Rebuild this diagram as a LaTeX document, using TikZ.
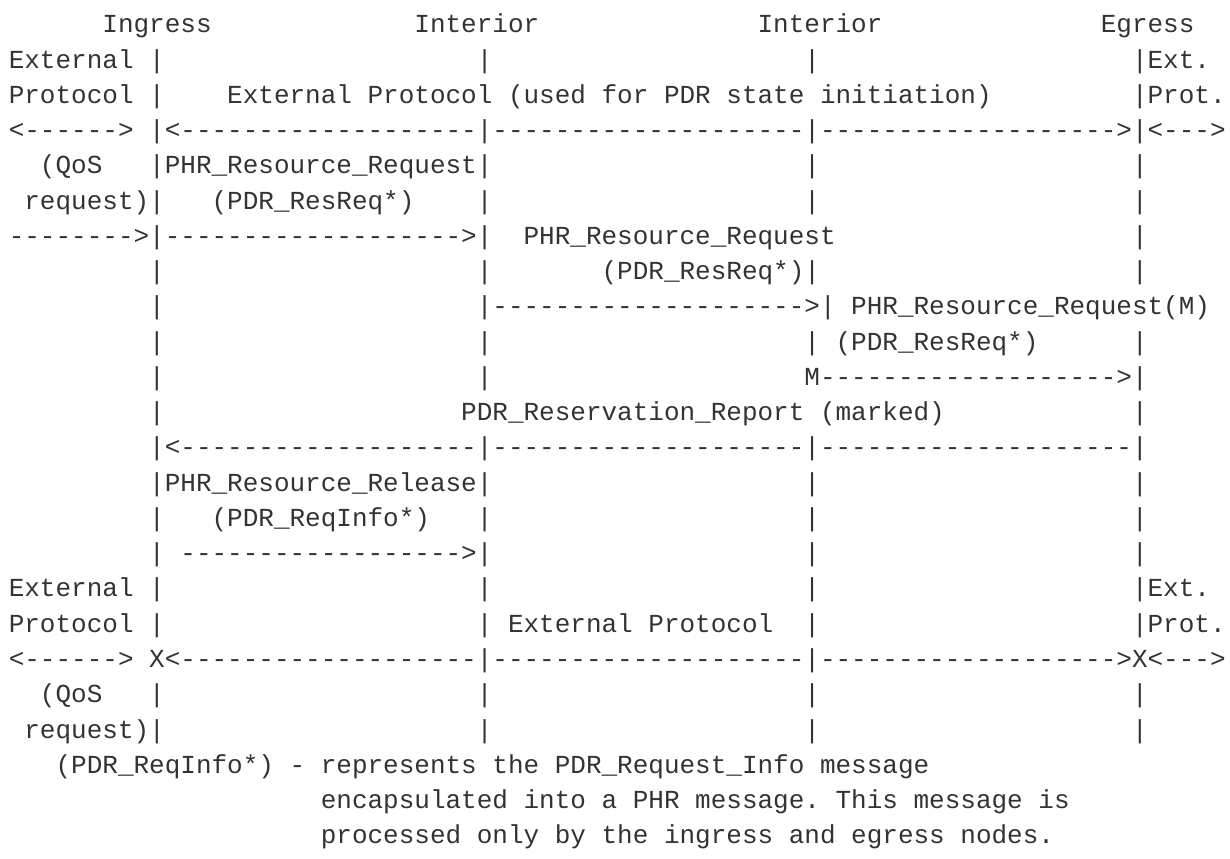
\documentclass[tikz,border=0pt]{standalone}
\usepackage{fontspec}
\setmonofont{Liberation Mono}
\usetikzlibrary{positioning}

\definecolor{textgray}{HTML}{333333}
\tikzset{
	txt/.style={anchor=base west, inner sep=0pt, outer sep=0pt, text=textgray,
		font=\ttfamily\fontsize{26}{26}\selectfont\frenchspacing},
}

\begin{document}
\begin{tikzpicture}[x=15.6pt, y=-35.26pt]
	\useasboundingbox (-0.564,0.07) rectangle (78.28,24.43);

	% node titles
	\node[txt] (ingress) at (6, 1)   {Ingress};
	\node[txt] (intA)    at (26, 1)  {Interior};
	\node[txt] (intB)    at (48, 1)  {Interior};
	\node[txt] (egress)  at (70, 1)  {Egress};

	% external protocol (initiation)
	\node[txt] (extA)  at (0, 2)  {External |};
	\node[txt] (extB)  at (72, 2) {|Ext.};
	\node[txt] (protA) at (0, 3)  {Protocol |};
	\node[txt] (protM) at (14, 3) {External Protocol (used for PDR state initiation)};
	\node[txt] (protB) at (72, 3) {|Prot.};
	\node[txt] (init)  at (0, 4)  {<------> |<-------------------|--------------------|------------------->|<--->};

	% resource request
	\node[txt] (qosA)  at (2, 5)  {(QoS};
	\node[txt] (reqA)  at (9, 5)  {|PHR\_Resource\_Request|};
	\node[txt] (qosB)  at (1, 6)  {request)|};
	\node[txt] (resA)  at (13, 6) {(PDR\_ResReq*)};
	\node[txt] (fwdA)  at (0, 7)  {-------->|------------------->|};
	\node[txt] (reqB)  at (33, 7) {PHR\_Resource\_Request};
	\node[txt] (resB)  at (38, 8) {(PDR\_ResReq*)|};
	\node[txt] (fwdB)  at (30, 9) {|-------------------->| PHR\_Resource\_Request(M)};
	\node[txt] (resC)  at (51, 10) {| (PDR\_ResReq*)};
	\node[txt] (fwdC)  at (51, 11) {M------------------->|};

	% reservation report
	\node[txt] (rep)   at (29, 12) {PDR\_Reservation\_Report (marked)};
	\node[txt] (back)  at (9, 13)  {|<-------------------|--------------------|--------------------|};

	% resource release
	\node[txt] (rel)   at (9, 14)  {|PHR\_Resource\_Release|};
	\node[txt] (info)  at (13, 15) {(PDR\_ReqInfo*)};
	\node[txt] (fwdD)  at (9, 16)  {| ------------------>|};

	% external protocol (release)
	\node[txt] (extC)  at (0, 17)  {External |};
	\node[txt] (extD)  at (72, 17) {|Ext.};
	\node[txt] (protC) at (0, 18)  {Protocol |};
	\node[txt] (protN) at (30, 18) {| External Protocol};
	\node[txt] (protD) at (72, 18) {|Prot.};
	\node[txt] (term)  at (0, 19)  {<------> X<-------------------|--------------------|------------------->X<--->};
	\node[txt] (qosC)  at (2, 20)  {(QoS};
	\node[txt] (qosD)  at (1, 21)  {request)|};

	% life lines
	\foreach \r in {8,9,10,11,12,15,20}
		\node[txt] (barA\r) at (9, \r) {|};
	\foreach \r in {2,6,8,10,11,15,17,20,21}
		\node[txt] (barB\r) at (30, \r) {|};
	\foreach \r in {2,5,6,14,15,16,17,18,20,21}
		\node[txt] (barC\r) at (51, \r) {|};
	\foreach \r in {5,6,7,8,10,12,14,15,16,20,21}
		\node[txt] (barD\r) at (72, \r) {|};

	% note
	\node[txt] (noteA) at (3, 22)  {(PDR\_ReqInfo*) - represents the PDR\_Request\_Info message};
	\node[txt] (noteB) at (20, 23) {encapsulated into a PHR message. This message is};
	\node[txt] (noteC) at (20, 24) {processed only by the ingress and egress nodes.};
\end{tikzpicture}
\end{document}
